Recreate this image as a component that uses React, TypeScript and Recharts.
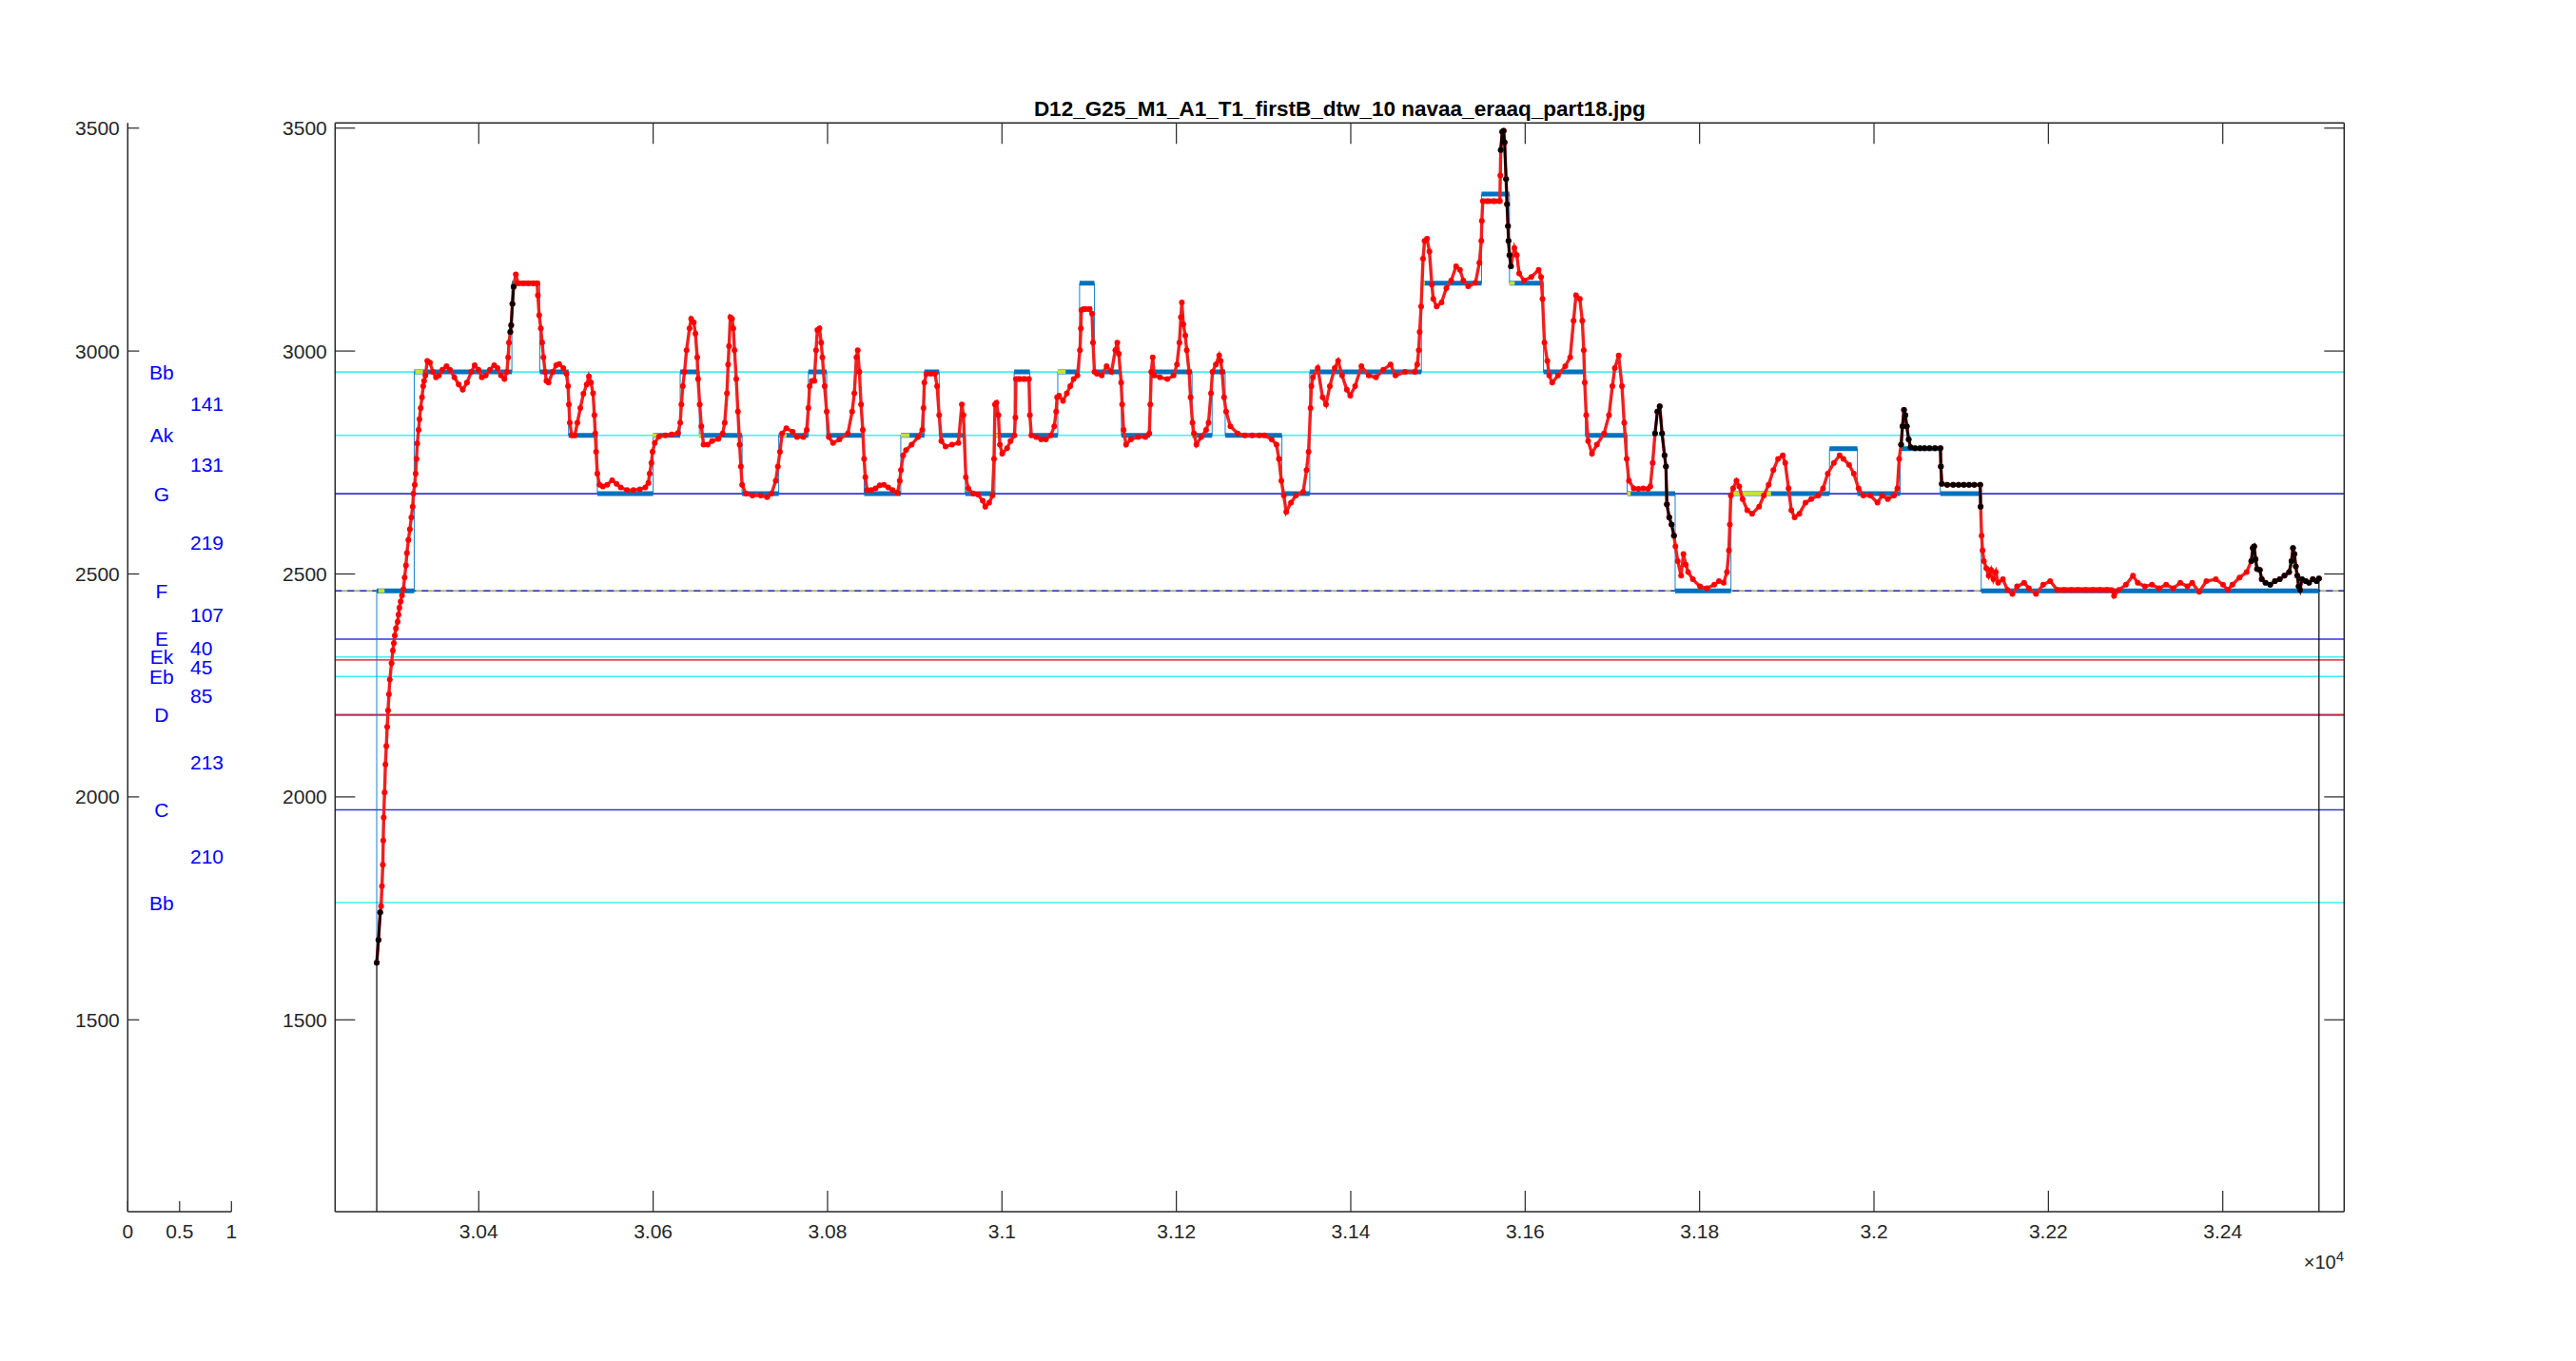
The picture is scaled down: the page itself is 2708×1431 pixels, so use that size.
import React from 'react';
import { ComposedChart, Line, XAxis, YAxis, ReferenceLine, Scatter } from 'recharts';

const FONT = '"Liberation Sans", Arial, Helvetica, sans-serif';
const AX = '#262626';

const X_DOMAIN: [number, number] = [30235.3, 32539.2];
const Y_DOMAIN: [number, number] = [1069.7, 3511.5];
const xTicks = [30400, 30600, 30800, 31000, 31200, 31400, 31600, 31800, 32000, 32200, 32400];
const yTicks = [1500, 2000, 2500, 3000, 3500];
const sideTicks = [0, 0.5, 1];

const title = 'D12_G25_M1_A1_T1_firstB_dtw_10 navaa_eraaq_part18.jpg';

// reference lines
const cyanLines = [2953, 2811, 2314, 2270, 1763];
const blueLines = [2680, 2354, 2184, 1971];
const redLines = [2307, 2184];
const dashedLine = 2462;

// note labels of the side panel
const noteNames = ['Bb', 'Ak', 'G', 'F', 'E', 'Ek', 'Eb', 'D', 'C', 'Bb'];
const noteFreqs = [2953, 2811, 2680, 2462, 2354, 2314, 2270, 2184, 1971, 1763];
const intervalLabels = ['141', '131', '219', '107', '40', '45', '85', '213', '210'];

// quantized note segments
const barStart = [30283, 30326, 30438, 30470, 30503, 30536, 30600, 30631, 30653, 30702, 30744, 30778, 30799, 30842, 30884, 30911, 30928, 30958, 30992, 31014, 31032, 31064, 31089, 31106, 31137, 31170, 31218, 31241, 31256, 31321, 31353, 31481, 31550, 31582, 31621, 31669, 31717, 31772, 31836, 31949, 31981, 32030, 32076, 32123];
const barEnd = [30326, 30438, 30470, 30503, 30536, 30600, 30631, 30653, 30702, 30744, 30778, 30799, 30842, 30884, 30911, 30928, 30958, 30992, 31014, 31032, 31064, 31089, 31106, 31137, 31170, 31218, 31241, 31256, 31321, 31353, 31481, 31550, 31582, 31621, 31669, 31717, 31772, 31836, 31949, 31981, 32030, 32076, 32123, 32510];
const barLevel = [2462, 2953, 3152, 2953, 2811, 2680, 2811, 2953, 2811, 2680, 2811, 2953, 2811, 2680, 2811, 2953, 2811, 2680, 2811, 2953, 2811, 2953, 3152, 2953, 2811, 2953, 2811, 2953, 2811, 2680, 2953, 3152, 3352, 3152, 2953, 2811, 2680, 2462, 2680, 2781, 2680, 2781, 2680, 2462];

// red thick segments
const redBarStart = [30443, 31016, 31091, 31551, 32210];
const redBarEnd = [30468, 31031, 31103, 31571, 32274];
const redBarLevel = [3152, 2937, 3094, 3336, 2464];

// yellow-green onset marks
const markStart = [30285, 30327, 30599, 30652, 30745, 30884, 30992, 31064, 31218, 31481, 31582, 31717, 31836];
const markEnd = [30292, 30336, 30607, 30658, 30753, 30894, 30998, 31073, 31223, 31485, 31588, 31721, 31882];
const markLevel = [2462, 2953, 2811, 2811, 2811, 2811, 2811, 2953, 2811, 3152, 3152, 2680, 2680];

// pitch contour [x, y]
const pitch: [number, number][] = [
  [30283,1628],[30285,1679],[30287,1741],[30288,1755],[30289,1800],[30290,1848],[30290.5,1902],[30291,1954],[30292,2010],[30293,2073],[30294,2114],[30295,2157],[30296,2194],[30297,2230],[30298,2263],[30300,2300],[30301.5,2328],[30302.6,2345],[30303.7,2362],[30305,2378],[30307,2393],[30308,2409],[30309,2424],[30310.4,2438],[30312,2452],[30313.7,2466],[30315,2492],[30316.5,2519],[30317.6,2547],[30319.3,2576],[30321,2600],[30322.7,2627],[30324.2,2651],[30325.1,2680],[30326.6,2700],[30327.6,2725],[30328.6,2758],[30329.5,2793],[30331,2823],[30332,2847],[30333.4,2872],[30334.9,2896],[30336.3,2921],[30337.3,2933],[30338.8,2945],[30341,2978],[30344,2974],[30347.5,2953],[30351,2941],[30354.4,2945],[30358.3,2958],[30363,2966],[30367,2958],[30372,2941],[30377,2925],[30381.6,2913],[30386.5,2929],[30391.4,2953],[30395.3,2968],[30399.7,2958],[30403.5,2941],[30408,2945],[30412.8,2958],[30417.7,2968],[30421.6,2962],[30425.5,2945],[30429.4,2937],[30432.3,2953],[30433.7,2986],[30434.7,3019],[30436.2,3043],[30437.2,3058],[30438.6,3106],[30440,3144],[30442.5,3172],[30445,3152],[30451,3152],[30456.6,3152],[30462.5,3152],[30467,3152],[30467.8,3125],[30469.3,3080],[30471.2,3051],[30472.7,3019],[30474.2,2986],[30476.1,2953],[30477.6,2933],[30480,2929],[30484.9,2953],[30488.8,2968],[30492.2,2971],[30497,2962],[30500.5,2949],[30502.4,2921],[30503.4,2880],[30504.4,2839],[30506.8,2811],[30510.2,2811],[30513.1,2839],[30516.5,2872],[30520,2904],[30523.8,2925],[30526.3,2943],[30528.7,2929],[30531.1,2905],[30532.6,2856],[30533.6,2815],[30534.6,2774],[30536,2725],[30538.5,2700],[30542.3,2696],[30547.2,2700],[30553,2710],[30558,2702],[30562.8,2694],[30570,2688],[30577.4,2688],[30584.7,2690],[30591,2694],[30594.5,2704],[30596,2725],[30598,2749],[30599.3,2774],[30601.8,2794],[30606.6,2808],[30614,2811],[30621.2,2813],[30628.5,2816],[30631,2839],[30632.4,2880],[30634,2921],[30636,2953],[30638.3,3002],[30641.7,3051],[30643.6,3072],[30646.6,3064],[30648.5,3039],[30650.5,2986],[30651.5,2937],[30653.4,2880],[30655.3,2831],[30657.8,2790],[30662.6,2790],[30667.5,2798],[30674.8,2803],[30679.7,2815],[30682.1,2839],[30684.6,2905],[30686,2970],[30687,3011],[30688.5,3076],[30690.4,3072],[30691.9,3051],[30693.3,3002],[30695.3,2937],[30697.2,2864],[30699.2,2790],[30700.6,2741],[30702,2700],[30706.5,2680],[30713.8,2676],[30723.5,2676],[30730.8,2672],[30735.7,2680],[30740.6,2709],[30743,2741],[30745.4,2774],[30747.9,2815],[30752.7,2827],[30760,2819],[30764.9,2807],[30772.2,2807],[30776.1,2823],[30778,2872],[30779.5,2921],[30782,2933],[30784.9,2933],[30786.8,3002],[30788.3,3047],[30790.7,3051],[30792.7,3019],[30794.1,2986],[30796.6,2921],[30799,2864],[30801.4,2807],[30806.3,2794],[30813.6,2802],[30823.3,2815],[30828.2,2864],[30830.7,2905],[30833.1,2986],[30834.6,3002],[30836.5,2953],[30838.4,2880],[30840.4,2823],[30841.9,2758],[30843.3,2717],[30845.3,2688],[30850.1,2688],[30855,2692],[30859.9,2699],[30864.7,2700],[30869.6,2694],[30874.5,2688],[30880.3,2682],[30882.8,2709],[30884.2,2733],[30886.7,2766],[30890,2778],[30896.4,2790],[30903.7,2807],[30908.6,2823],[30910,2872],[30911,2929],[30913.4,2949],[30918.3,2949],[30923.2,2949],[30925.6,2921],[30928,2856],[30930.5,2798],[30935.3,2786],[30942.7,2790],[30950,2794],[30954,2880],[30955.8,2856],[30958.6,2717],[30961.4,2692],[30967,2680],[30972.5,2678],[30978,2664],[30980.9,2651],[30985.3,2660],[30989.2,2676],[30990.9,2758],[30992,2880],[30993.7,2884],[30995.9,2856],[30997.6,2790],[31000.3,2770],[31005.9,2782],[31009.8,2798],[31014.3,2811],[31015.4,2851],[31016,2937],[31019.8,2937],[31025.4,2937],[31031,2937],[31032,2856],[31033.7,2811],[31039.3,2807],[31044.9,2802],[31050.4,2802],[31056,2811],[31060,2831],[31062.1,2864],[31063.2,2896],[31065.5,2900],[31070,2888],[31074.4,2905],[31078.3,2921],[31082.2,2937],[31086.6,2945],[31089.4,3002],[31090.5,3051],[31091.1,3092],[31095,3094],[31100.6,3094],[31103.3,3084],[31104.4,3019],[31106.1,2953],[31108.9,2949],[31114.4,2945],[31120,2966],[31125.6,2953],[31130,3002],[31132.3,3019],[31134,2994],[31136.7,2929],[31137.8,2880],[31139.5,2823],[31142.3,2790],[31147.8,2802],[31156.2,2807],[31164.5,2807],[31169,2815],[31170.1,2880],[31171.2,2953],[31172.9,2986],[31174.6,2945],[31181.2,2941],[31189.6,2937],[31196.8,2945],[31200.7,2970],[31203.5,3019],[31205.2,3076],[31206.3,3109],[31208,3060],[31210.2,3035],[31211.9,3002],[31214.6,2953],[31216.3,2896],[31218.5,2839],[31220.2,2815],[31223,2790],[31228.5,2807],[31234.1,2823],[31236.9,2839],[31239.7,2905],[31241.4,2953],[31245.3,2970],[31249.1,2990],[31250.8,2978],[31252.5,2953],[31254.7,2896],[31257,2864],[31262,2831],[31270.3,2815],[31278.6,2811],[31287,2811],[31295.3,2811],[31301,2811],[31309.3,2802],[31314.8,2790],[31317.6,2758],[31320.4,2709],[31323.2,2676],[31326,2639],[31331.5,2660],[31337.1,2676],[31345.4,2684],[31349.3,2733],[31351.6,2774],[31353.8,2872],[31354.9,2921],[31356.6,2941],[31362.1,2962],[31367.7,2896],[31371.6,2880],[31376,2921],[31381.6,2962],[31385.5,2978],[31390,2945],[31395.5,2913],[31399.4,2900],[31405,2921],[31412.2,2966],[31420.6,2945],[31428.9,2941],[31437.3,2958],[31445.6,2970],[31451.2,2945],[31462.3,2953],[31473.5,2953],[31476.2,2970],[31478,3002],[31479,3043],[31480.7,3100],[31482.9,3207],[31484.6,3247],[31487.4,3252],[31490.2,3223],[31493,3149],[31494.6,3117],[31498.5,3100],[31504.1,3109],[31509.6,3141],[31515.2,3158],[31520.8,3190],[31525.2,3182],[31529.1,3158],[31534.7,3145],[31543,3153],[31547.5,3198],[31549.7,3247],[31550.3,3292],[31551.4,3336],[31557,3336],[31564.2,3336],[31571,3336],[31571.5,3394],[31572,3451],[31573.7,3492],[31575.3,3494],[31576.4,3468],[31578.1,3386],[31579.2,3329],[31580.3,3280],[31580.9,3247],[31582,3215],[31583.7,3190],[31587.6,3231],[31590.4,3215],[31593.1,3174],[31598.7,3158],[31607,3166],[31615.4,3182],[31618.2,3166],[31619.9,3117],[31622.1,3019],[31625.4,2978],[31627.6,2945],[31631,2929],[31637.6,2945],[31646,2966],[31651.6,2986],[31655.5,3068],[31658.3,3125],[31662.7,3117],[31665.5,3068],[31667.2,3002],[31668.3,2929],[31670,2856],[31672.2,2798],[31676.6,2770],[31682.2,2790],[31690.5,2815],[31696.1,2856],[31700,2921],[31702.8,2962],[31707.2,2990],[31711,2921],[31713.6,2839],[31716.4,2758],[31719,2709],[31724.5,2692],[31729.9,2691],[31735.4,2692],[31740.8,2691],[31743.5,2696],[31746.2,2749],[31748.9,2815],[31751.6,2864],[31754.3,2876],[31757,2815],[31759.8,2766],[31761.4,2741],[31762.5,2656],[31765.2,2627],[31767.9,2611],[31770.6,2586],[31772.3,2562],[31775,2529],[31778.8,2496],[31781.5,2545],[31784.2,2521],[31786.9,2504],[31792.3,2488],[31800.5,2472],[31808.6,2468],[31816.8,2476],[31822.2,2484],[31827.6,2480],[31831.4,2504],[31833.6,2553],[31834.7,2611],[31835.8,2676],[31838.5,2692],[31842.3,2709],[31845.5,2696],[31849.3,2668],[31854.7,2643],[31860.2,2635],[31868.3,2651],[31873.7,2676],[31879.2,2700],[31884.6,2733],[31890,2758],[31895.4,2766],[31898.2,2749],[31902,2692],[31905.2,2643],[31909,2627],[31914.4,2635],[31921.5,2660],[31928,2668],[31936.2,2676],[31941.6,2692],[31947,2725],[31954,2749],[31960.6,2766],[31964.9,2758],[31971.4,2745],[31976.9,2725],[31982.3,2692],[31987.7,2676],[31995.8,2676],[32004,2660],[32009.4,2676],[32015.9,2668],[32023,2676],[32026.8,2692],[32028.9,2758],[32031.1,2790],[32032.7,2831],[32034.4,2868],[32036,2856],[32037.6,2831],[32039.8,2802],[32042,2784],[32047,2782],[32052.8,2782],[32058,2782],[32063.7,2782],[32070,2782],[32076.2,2782],[32076.7,2741],[32077.8,2702],[32084,2700],[32090.8,2700],[32097,2700],[32103,2700],[32109,2700],[32115,2700],[32121.8,2700],[32122.3,2651],[32123.4,2586],[32124.5,2553],[32126.1,2529],[32128.8,2513],[32131.5,2496],[32134.2,2509],[32136.9,2488],[32139.7,2504],[32142.4,2480],[32147.8,2488],[32153.2,2464],[32158.7,2455],[32164.1,2472],[32172.2,2480],[32177.6,2468],[32185.8,2455],[32194,2476],[32202.1,2484],[32210.2,2464],[32218,2464],[32226.5,2464],[32234,2464],[32242.8,2464],[32251,2464],[32259,2464],[32267,2464],[32274.2,2462],[32275.3,2451],[32280.8,2464],[32288.9,2476],[32297,2496],[32302.5,2480],[32310.6,2472],[32318.8,2476],[32326.9,2468],[32335,2476],[32343.2,2468],[32351.3,2480],[32359.5,2472],[32364.9,2480],[32373,2460],[32381.2,2484],[32392,2488],[32400.2,2476],[32405.6,2464],[32411,2476],[32419.2,2492],[32427.3,2504],[32432.7,2529],[32434.4,2558],[32436,2562],[32437.6,2533],[32439.3,2511],[32442.5,2509],[32444.7,2488],[32449,2480],[32454.4,2476],[32459.8,2484],[32465.3,2488],[32470.7,2496],[32476.1,2504],[32478.8,2529],[32480.5,2558],[32482.1,2545],[32483.7,2517],[32485.4,2496],[32487,2472],[32488.6,2464],[32490.8,2488],[32495.1,2484],[32498.9,2480],[32503.3,2488],[32507.6,2484],[32510.3,2490],
];

// x ranges where the contour is drawn in black
const blackRanges: [number, number][] = [
  [30283, 30287.5], [30436, 30440.5], [31571.8, 31584], [31748, 31771], [32030, 32122.5], [32432, 32511],
];

// ---------- derived series ----------
const pitchData = pitch.map(([x, y]) => ({ x, y }));
const blackData = pitch.map(([x, y]) => ({
  x,
  y: blackRanges.some(([a, b]) => x >= a && x <= b) ? y : null,
}));
const segData = (s: number[], e: number[], l: number[]) => {
  const out: { x: number; y: number | null }[] = [];
  s.forEach((v, i) => {
    out.push({ x: v, y: l[i] });
    out.push({ x: e[i], y: l[i] });
    out.push({ x: e[i], y: null });
  });
  return out;
};
const barData = segData(barStart, barEnd, barLevel);
const redBarData = segData(redBarStart, redBarEnd, redBarLevel);
const markData = segData(markStart, markEnd, markLevel);
const stairData: { x: number; y: number }[] = [{ x: pitch[0][0], y: pitch[0][1] }];
barStart.forEach((s, i) => {
  stairData.push({ x: s, y: barLevel[i] });
  stairData.push({ x: barEnd[i], y: barLevel[i] });
});
const last = pitch[pitch.length - 1];
const startLine = [{ x: pitch[0][0], y: Y_DOMAIN[0] }, { x: pitch[0][0], y: pitch[0][1] }];
const endLine = [{ x: last[0], y: Y_DOMAIN[0] }, { x: last[0], y: last[1] }];

const noteData = noteNames.map((n, i) => ({ x: 0.327, y: noteFreqs[i], label: n }));
const intervalData = intervalLabels.map((t, i) => ({ x: 0.603, y: (noteFreqs[i] + noteFreqs[i + 1]) / 2, label: t }));

const fmtX = (v: number) => String(parseFloat((v / 10000).toFixed(2)));
const fmtPlain = (v: number) => String(v);

// ---------- ticks ----------
const BottomTick = (len: number, fmt: (v: number) => string) => (p: any) => (
  <g>
    <line x1={p.x} y1={p.y} x2={p.x} y2={p.y - len} stroke={AX} strokeWidth={1.2} />
    <text x={p.x} y={p.y + 28.3} textAnchor="middle" fontSize={21} fontFamily={FONT} fill={AX}>
      {fmt(p.payload.value)}
    </text>
  </g>
);
const TopTick = (len: number) => (p: any) => (
  <g>
    <line x1={p.x} y1={p.y} x2={p.x} y2={p.y + len} stroke={AX} strokeWidth={1.2} />
  </g>
);
const LeftTick = (len: number) => (p: any) => (
  <g>
    <line x1={p.x} y1={p.y} x2={p.x + len} y2={p.y} stroke={AX} strokeWidth={1.2} />
    <text x={p.x - 8.5} y={p.y + 7.5} textAnchor="end" fontSize={21} fontFamily={FONT} fill={AX}>
      {p.payload.value}
    </text>
  </g>
);
const RightTick = (len: number) => (p: any) => (
  <g>
    <line x1={p.x} y1={p.y} x2={p.x - len} y2={p.y} stroke={AX} strokeWidth={1.2} />
  </g>
);

const axisLine = { stroke: AX, strokeWidth: 1.5 };

function MainChart() {
  return (
    <ComposedChart width={2708} height={1431} margin={{ top: 119.3, right: 233.7, bottom: 97, left: 252.3 }}>
      <XAxis xAxisId="main" dataKey="x" type="number" domain={X_DOMAIN} allowDataOverflow ticks={xTicks}
        interval={0} height={60} tickSize={0} tickMargin={0} axisLine={axisLine} tick={BottomTick(22, fmtX)} />
      <XAxis xAxisId="top" orientation="top" dataKey="x" type="number" domain={X_DOMAIN} allowDataOverflow ticks={xTicks}
        interval={0} height={10} tickSize={0} tickMargin={0} axisLine={axisLine} tick={TopTick(22)} />
      <YAxis yAxisId="main" dataKey="y" type="number" domain={Y_DOMAIN} allowDataOverflow ticks={yTicks}
        interval={0} width={100} tickSize={0} tickMargin={0} axisLine={axisLine} tick={LeftTick(21)} />
      <YAxis yAxisId="right" orientation="right" dataKey="y" type="number" domain={Y_DOMAIN} allowDataOverflow ticks={yTicks}
        interval={0} width={10} tickSize={0} tickMargin={0} axisLine={axisLine} tick={RightTick(21)} />

      {cyanLines.map((v, i) => (
        <ReferenceLine key={'c' + i} xAxisId="main" yAxisId="main" y={v} stroke="#3ff0f0" strokeWidth={1.6} />
      ))}
      {blueLines.map((v, i) => (
        <ReferenceLine key={'b' + i} xAxisId="main" yAxisId="main" y={v} stroke="#3434d8" strokeWidth={1.6} />
      ))}
      {redLines.map((v, i) => (
        <ReferenceLine key={'r' + i} xAxisId="main" yAxisId="main" y={v} stroke="#e02a40" strokeWidth={1.8} strokeOpacity={0.85} />
      ))}
      <ReferenceLine xAxisId="main" yAxisId="main" y={dashedLine} stroke="#b4b090" strokeWidth={2} />
      <ReferenceLine xAxisId="main" yAxisId="main" y={dashedLine} stroke="#2a3cc8" strokeWidth={1.5} strokeDasharray="7 6" />

      <Line xAxisId="main" yAxisId="main" data={startLine} dataKey="y" stroke="#000" strokeWidth={1.2} dot={false} isAnimationActive={false} />
      <Line xAxisId="main" yAxisId="main" data={endLine} dataKey="y" stroke="#000" strokeWidth={1.2} dot={false} isAnimationActive={false} />
      <Line xAxisId="main" yAxisId="main" data={stairData} dataKey="y" stroke="#1a80c8" strokeWidth={1} dot={false} isAnimationActive={false} />
      <Line xAxisId="main" yAxisId="main" data={barData} dataKey="y" stroke="#0072BD" strokeWidth={5} dot={false} connectNulls={false} isAnimationActive={false} />
      <Line xAxisId="main" yAxisId="main" data={markData} dataKey="y" stroke="#c8e03a" strokeWidth={4} dot={false} connectNulls={false} isAnimationActive={false} />
      <Line xAxisId="main" yAxisId="main" data={pitchData} dataKey="y" stroke="#f02020" strokeWidth={3.4}
        dot={{ r: 3, fill: '#ff0000', stroke: 'none' }} isAnimationActive={false} />
      <Line xAxisId="main" yAxisId="main" data={redBarData} dataKey="y" stroke="#ff0000" strokeWidth={5.5} dot={false} connectNulls={false} isAnimationActive={false} />
      <Line xAxisId="main" yAxisId="main" data={blackData} dataKey="y" stroke="#000000" strokeWidth={2.8} connectNulls={false}
        dot={{ r: 3, fill: '#000000', stroke: 'none' }} isAnimationActive={false} />
    </ComposedChart>
  );
}

function SideChart() {
  return (
    <ComposedChart width={300} height={1431} margin={{ top: 129.3, right: 56.7, bottom: 97, left: 34.3 }}>
      <XAxis xAxisId="s" dataKey="x" type="number" domain={[0, 1]} allowDataOverflow ticks={sideTicks}
        interval={0} height={60} tickSize={0} tickMargin={0} axisLine={axisLine} tick={BottomTick(11, fmtPlain)} />
      <YAxis yAxisId="s" dataKey="y" type="number" domain={Y_DOMAIN} allowDataOverflow ticks={yTicks}
        interval={0} width={100} tickSize={0} tickMargin={0} axisLine={axisLine} tick={LeftTick(12)} />
      <Scatter xAxisId="s" yAxisId="s" data={noteData} dataKey="y" isAnimationActive={false}
        shape={(p: any) => (
          <text x={p.cx} y={p.cy} dy="0.36em" textAnchor="middle" fontSize={21} fontFamily={FONT} fill="#0000ff">
            {p.payload.label}
          </text>
        )} />
      <Scatter xAxisId="s" yAxisId="s" data={intervalData} dataKey="y" isAnimationActive={false}
        shape={(p: any) => (
          <text x={p.cx} y={p.cy} dy="0.36em" textAnchor="start" fontSize={21} fontFamily={FONT} fill="#0000ff">
            {p.payload.label}
          </text>
        )} />
    </ComposedChart>
  );
}

export default function App() {
  return (
    <div style={{ position: 'absolute', left: 0, top: 0, width: 2708, height: 1431, background: '#fff' }}>
      <div style={{ position: 'absolute', left: 0, top: 0 }}>
        <SideChart />
      </div>
      <div style={{ position: 'absolute', left: 0, top: 0 }}>
        <MainChart />
      </div>
      <svg width={2708} height={1431} style={{ position: 'absolute', left: 0, top: 0, pointerEvents: 'none' }}>
        <text x={1408.3} y={121.5} textAnchor="middle" fontSize={22.5} fontWeight="bold" fontFamily={FONT} fill="#000">
          {title}
        </text>
        <text x={2464} y={1334.3} textAnchor="end" fontFamily={FONT} fill={AX}>
          <tspan fontSize={20}>×10</tspan>
          <tspan fontSize={15} dy={-8.5}>4</tspan>
        </text>
      </svg>
    </div>
  );
}
